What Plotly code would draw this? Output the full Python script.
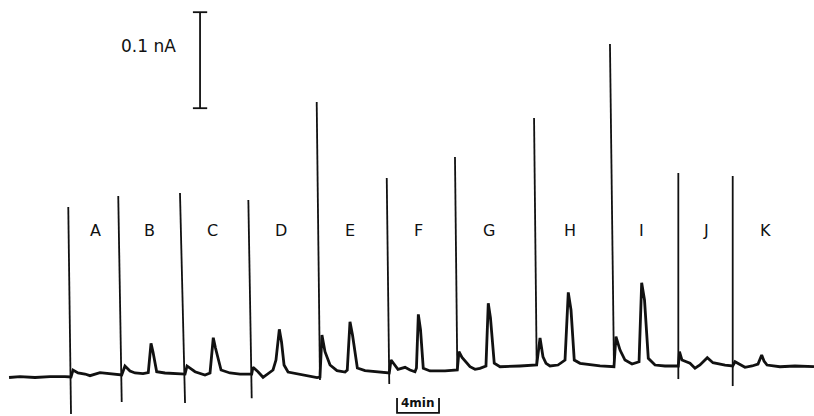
import plotly.graph_objects as go

# ---- recorder trace (time in min, current in pA) ----
trace_t = [-5.90, -4.86, -3.43, -2.00, -0.57, 0.00, 0.19, 0.67, 1.33, 1.81, 2.76, 3.71, 4.38,
           4.83, 5.14, 5.62, 6.10, 6.86, 7.36, 7.62, 7.81, 8.16, 8.95, 9.90,
           10.86, 11.05, 11.81, 12.76, 13.24, 13.55, 13.76, 14.29, 15.14, 16.10,
           17.21, 17.33, 17.81, 18.29, 18.76, 19.24, 19.52, 19.84, 20.05, 20.29, 20.67, 21.81, 22.76, 23.43,
           23.71, 23.90, 24.19, 24.67, 25.33, 26.10, 26.31, 26.57, 26.81, 27.27, 28.00, 29.43,
           30.31, 30.48, 31.14, 31.81, 32.29, 32.76, 32.90, 33.08, 33.29, 33.55, 34.19, 35.62,
           36.79, 36.95, 37.24, 38.00, 38.48, 38.95, 39.52, 39.74, 39.95, 40.31, 40.86, 42.76,
           44.35, 44.67, 44.95, 45.24, 45.62, 46.38, 47.05, 47.36, 47.62, 47.93, 48.48, 50.38,
           51.71, 51.90, 52.29, 52.76, 53.43, 54.10, 54.35, 54.62, 54.98, 55.62, 56.57,
           57.84, 57.95, 58.19, 58.95, 59.43, 59.90, 60.60, 61.14, 62.29,
           63.02, 63.24, 63.90, 64.19, 64.86, 65.43, 65.78, 66.00, 66.29, 67.52, 68.95, 70.76]
trace_pA = [-0.5, 0.5, -0.5, 0.5, 0.5, 0.0, 7.3, 4.2, 3.1, 1.4, 4.5, 3.1, 2.1,
            2.1, 11.5, 6.3, 4.2, 3.6, 4.7, 35.1, 26.0, 5.5, 4.2, 3.6,
            3.1, 11.5, 5.5, 2.1, 4.2, 40.9, 30.2, 7.3, 4.2, 3.1,
            3.1, 10.1, 5.5, -0.3, 3.1, 7.3, 17.7, 49.7, 36.5, 12.5, 5.2, 2.8, 1.0, -0.7,
            0.0, 43.8, 26.4, 12.5, 6.6, 5.2, 7.3, 57.6, 43.8, 9.4, 6.6, 5.5,
            4.2, 17.7, 8.0, 10.1, 7.3, 5.5, 9.4, 65.3, 49.0, 9.1, 6.3, 6.3,
            7.3, 26.4, 20.5, 10.7, 8.0, 9.1, 11.5, 76.8, 61.5, 14.3, 10.7, 11.5,
            12.5, 40.6, 21.1, 14.3, 11.5, 12.5, 17.7, 88.2, 69.8, 17.7, 14.3, 11.5,
            10.7, 42.0, 28.1, 17.7, 13.5, 15.9, 98.2, 80.2, 19.5, 12.5, 11.5,
            11.5, 26.4, 17.7, 14.3, 9.1, 12.5, 20.1, 14.9, 12.5,
            11.5, 15.9, 11.5, 10.1, 11.5, 13.5, 22.9, 16.7, 12.5, 10.7, 11.5, 10.9]

# ---- injection artefacts (spikes) ----
spike_t = [0.00, 4.83, 10.86, 17.21, 23.71, 30.31, 36.79, 44.35, 51.71, 57.84, 63.02]
spike_top_t = [-0.26, 4.50, 10.38, 16.89, 23.40, 30.07, 36.57, 44.10, 51.33, 57.84, 63.02]
spike_top_pA = [177.1, 188.5, 191.7, 184.4, 286.5, 207.3, 229.2, 269.8, 346.9, 212.5, 209.4]
spike_bottom_pA = [-38.5, -26.0, -27.1, -22.2, -3.1, -7.3, 7.3, 12.5, 10.7, -2.1, -9.4]

# ---- sample labels ----
sample_labels = ["A", "B", "C", "D", "E", "F", "G", "H", "I", "J", "K"]
label_t = [2.38, 7.52, 13.52, 20.00, 26.57, 33.05, 39.81, 47.52, 54.38, 60.48, 66.10]
label_pA = 153.0

# ---- scale bars ----
current_bar_t = 12.29
current_bar_bottom_pA = 280.0
current_bar_len_pA = 100.0          # 0.1 nA
current_bar_label = "0.1 nA"
time_bar_start_t = 31.05
time_bar_len_min = 4.0
time_bar_pA = -34.4
time_bar_label = "4min"

INK = "#111111"
FONT = "DejaVu Sans, Arial"
fig = go.Figure()

# spikes
sx, sy = [], []
for t0, tt, top, bot in zip(spike_t, spike_top_t, spike_top_pA, spike_bottom_pA):
    sx += [tt, t0, None]
    sy += [top, bot, None]
fig.add_trace(go.Scatter(x=sx, y=sy, mode="lines", line=dict(color=INK, width=1.8),
                         hoverinfo="skip", showlegend=False))

# main trace
fig.add_trace(go.Scatter(x=trace_t, y=trace_pA, mode="lines",
                         line=dict(color=INK, width=2.8, shape="linear"),
                         showlegend=False))

# current scale bar (I-beam)
cap = 0.68
top = current_bar_bottom_pA + current_bar_len_pA
fig.add_trace(go.Scatter(
    x=[current_bar_t, current_bar_t, None, current_bar_t - cap, current_bar_t + cap, None,
       current_bar_t - cap, current_bar_t + cap],
    y=[current_bar_bottom_pA, top, None, top, top, None, current_bar_bottom_pA, current_bar_bottom_pA],
    mode="lines", line=dict(color=INK, width=1.8), hoverinfo="skip", showlegend=False))
fig.add_annotation(x=current_bar_t - 2.1, y=current_bar_bottom_pA + 0.65 * current_bar_len_pA,
                   text=current_bar_label, showarrow=False, xanchor="right", yanchor="middle",
                   font=dict(family=FONT, size=17, color=INK))

# time scale bar
t1 = time_bar_start_t
t2 = time_bar_start_t + time_bar_len_min
fig.add_trace(go.Scatter(
    x=[t1, t1, t2, t2],
    y=[time_bar_pA + 12.5, time_bar_pA - 3.0, time_bar_pA - 3.0, time_bar_pA + 12.5],
    mode="lines", line=dict(color=INK, width=1.8), hoverinfo="skip", showlegend=False))
fig.add_annotation(x=(t1 + t2) / 2, y=time_bar_pA + 7.0, text="<b>" + time_bar_label + "</b>",
                   showarrow=False, xanchor="center", yanchor="middle",
                   font=dict(family=FONT, size=12, color=INK))

for lab, lt in zip(sample_labels, label_t):
    fig.add_annotation(x=lt, y=label_pA, text=lab, showarrow=False,
                       xanchor="center", yanchor="middle",
                       font=dict(family=FONT, size=16, color=INK))

fig.update_layout(
    width=814, height=416,
    margin=dict(l=0, r=0, t=0, b=0),
    paper_bgcolor="white", plot_bgcolor="white",
    xaxis=dict(range=[-6.762, 70.762], visible=False, fixedrange=True),
    yaxis=dict(range=[-40.6, 392.7], visible=False, fixedrange=True),
)

fig.write_html("out.html", config={"displayModeBar": False},
               post_script="document.body.style.margin='0';")
